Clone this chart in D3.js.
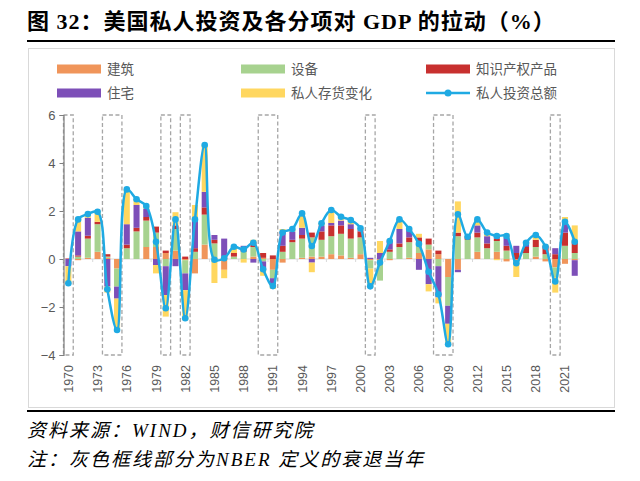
<!DOCTYPE html>
<html><head><meta charset="utf-8">
<script src="https://cdn.jsdelivr.net/npm/d3@7"></script>
<style>body{margin:0;background:#fff}svg{display:block}</style>
</head><body>
<svg id="c" width="640" height="481"></svg>
<script>
const years = d3.range(1970, 2023);
const construction = [0.0,-0.05,0.05,0.3,0.05,-0.4,0.0,0.0,0.5,0.5,0.25,0.35,-0.05,-0.6,0.6,0.05,-0.45,0.0,0.0,0.1,0.05,-0.45,-0.15,0.0,0.05,0.1,0.1,0.2,0.15,0.05,0.2,-0.05,-0.25,-0.05,0.0,0.05,0.25,0.4,0.2,-0.75,-0.45,0.0,0.3,0.0,0.3,-0.1,-0.05,0.0,0.1,-0.1,-0.35,-0.2,-0.05];
const equipment    = [0.0,0.1,0.8,1.15,0.05,-0.75,0.45,1.15,1.1,0.6,-0.3,0.9,-0.55,0.3,1.25,0.6,0.0,0.1,0.3,0.4,-0.1,-0.35,0.3,0.7,0.8,0.8,0.7,0.75,0.9,0.8,0.7,-0.35,-0.65,0.3,0.5,0.65,0.45,0.2,-0.3,-1.2,0.95,0.8,0.6,0.45,0.45,0.35,-0.1,0.25,0.4,0.2,-0.4,0.55,0.25];
const ipp          = [0.02,0.05,0.12,0.1,0.1,0.0,0.15,0.15,0.15,0.25,0.1,0.15,0.1,0.15,0.3,0.15,0.1,0.15,0.15,0.2,0.2,0.15,0.25,0.1,0.15,0.2,0.35,0.45,0.35,0.4,0.25,0.0,0.0,0.1,0.15,0.2,0.2,0.25,0.15,0.0,0.15,0.15,0.2,0.2,0.1,0.2,0.25,0.25,0.3,0.35,0.2,0.55,0.45];
const residential  = [-0.3,1.0,0.75,0.0,-1.15,-0.5,0.85,0.95,0.35,-0.25,-1.2,-0.3,-0.7,1.2,0.65,0.2,0.75,0.0,0.1,-0.15,-0.35,-0.25,0.6,0.35,0.3,-0.15,0.25,0.1,0.2,0.2,0.05,0.05,0.25,0.35,0.6,0.3,-0.45,-1.05,-1.3,-0.75,-0.1,0.0,0.3,0.3,0.15,0.35,0.3,0.2,0.0,0.0,0.25,0.5,-0.65];
const inventory    = [-0.72,0.5,0.15,0.45,-0.25,-1.3,1.45,0.25,0.1,-0.35,-0.9,0.55,-1.25,0.6,1.95,-1.0,-0.35,0.25,-0.15,0.1,-0.25,-0.2,0.1,0.1,0.6,-0.4,0.1,0.55,0.15,0.15,0.05,-0.8,0.5,0.05,0.4,0.05,0.15,-0.3,-0.25,-0.85,1.3,0.0,0.25,0.15,-0.05,0.15,-0.6,0.0,0.2,0.05,-0.65,0.15,0.7];
const total        = [-1.01,1.65,1.87,1.97,-1.26,-2.96,2.9,2.49,2.21,0.72,-2.05,1.65,-2.47,1.65,4.75,-0.03,0.03,0.51,0.4,0.68,-0.43,-1.13,1.1,1.25,1.9,0.54,1.49,2.04,1.76,1.62,1.28,-1.14,-0.15,0.75,1.65,1.25,0.63,-0.53,-1.47,-3.55,1.86,0.93,1.65,1.1,0.96,0.96,-0.18,0.68,1.0,0.51,-0.94,1.55,0.72];
const seriesNames  = ["建筑","设备","知识产权产品","住宅","私人存货变化"];
const lineName     = "私人投资总额";
const recessions   = [[1970,1970],[1974,1975],[1980,1980],[1982,1982],[1990,1991],[2001,2001],[2008,2009],[2020,2020]];
const yTicks       = [-4,-2,0,2,4,6];
const xLabelYears  = d3.range(1970, 2023, 3);
const colors = ["#F0955A","#A7D28F","#C8302F","#7D4FB8","#FFD760"];
const lineColor = "#1FAAE3";

const svg = d3.select("#c");
const keys = ["construction","equipment","ipp","residential","inventory"];
const series = [construction, equipment, ipp, residential, inventory];
const table = years.map((yr,i)=>{const o={year:yr}; keys.forEach((k,j)=>o[k]=series[j][i]); o.total=total[i]; return o;});

// title
svg.append("text").attr("x",27).attr("y",29)
  .style("font-family","'Liberation Serif','Noto Sans CJK SC',serif").style("font-weight","bold")
  .style("font-size","22px").style("letter-spacing","1px").attr("fill","#000").text("图 32：美国私人投资及各分项对 GDP 的拉动（%）");
svg.append("line").attr("x1",27).attr("x2",615).attr("y1",41).attr("y2",41).attr("stroke","#000").attr("stroke-width",2);
// frame
svg.append("rect").attr("x",28.5).attr("y",48.5).attr("width",586).attr("height",359).attr("fill","none").attr("stroke","#D9D9D9");

// legend
const legFont = "'Noto Sans CJK SC',sans-serif";
const legCols = [57, 241, 426], legRows = [69, 93];
const legItems = [[0,0,0],[1,1,0],[2,2,0],[3,0,1],[4,1,1]];
legItems.forEach(([si,c,r])=>{
  svg.append("rect").attr("x",legCols[c]).attr("y",legRows[r]-4.5).attr("width",44).attr("height",9).attr("fill",colors[si]);
  svg.append("text").attr("x",legCols[c]+50).attr("y",legRows[r]+5).style("font-family",legFont).style("font-size","13.5px").attr("fill","#595959").text(seriesNames[si]);
});
svg.append("line").attr("x1",legCols[2]).attr("x2",legCols[2]+44).attr("y1",legRows[1]).attr("y2",legRows[1]).attr("stroke",lineColor).attr("stroke-width",2.5);
svg.append("circle").attr("cx",legCols[2]+22).attr("cy",legRows[1]).attr("r",3.5).attr("fill",lineColor);
svg.append("text").attr("x",legCols[2]+50).attr("y",legRows[1]+5).style("font-family",legFont).style("font-size","13.5px").attr("fill","#595959").text(lineName);

// scales
const x = d3.scaleBand().domain(years).range([63.5, 579.6]).padding(0);
const y = d3.scaleLinear().domain([-4,6]).range([355,115]);
const bw = x.step()*0.62;

// recession boxes
svg.append("g").selectAll("rect").data(recessions).join("rect")
  .attr("x",d=>x(d[0])).attr("width",d=>x(d[1])+x.step()-x(d[0]))
  .attr("y",y(6)).attr("height",y(-4)-y(6))
  .attr("fill","none").attr("stroke","#A6A6A6").attr("stroke-width",1.3).attr("stroke-dasharray","4,2.5");

// zero axis
svg.append("line").attr("x1",x.range()[0]).attr("x2",x.range()[1]).attr("y1",y(0)).attr("y2",y(0)).attr("stroke","#D9D9D9").attr("stroke-width",1);
svg.append("g").selectAll("line").data(xLabelYears).join("line")
  .attr("x1",d=>x(d)).attr("x2",d=>x(d)).attr("y1",y(0)).attr("y2",y(0)+3).attr("stroke","#D9D9D9");

// bars
const stack = d3.stack().keys(keys).offset(d3.stackOffsetDiverging)(table);
svg.append("g").selectAll("g").data(stack).join("g").attr("fill",(d,i)=>colors[i])
  .selectAll("rect").data(d=>d).join("rect")
  .attr("x",d=>x(d.data.year)+(x.step()-bw)/2).attr("width",bw)
  .attr("y",d=>y(Math.max(d[0],d[1]))).attr("height",d=>Math.abs(y(d[0])-y(d[1])));

// y axis
const yAxis = svg.append("g").attr("transform",`translate(${x.range()[0]},0)`)
  .call(d3.axisLeft(y).tickValues(yTicks).tickSize(4).tickFormat(d3.format("d")));
yAxis.select(".domain").attr("stroke","#7F7F7F").attr("stroke-width",1.2);
yAxis.selectAll(".tick line").attr("stroke","#7F7F7F");
yAxis.selectAll("text").attr("fill","#595959").style("font-family","'Liberation Sans',Arial,sans-serif").style("font-size","13px").attr("x",-8);

// x labels
svg.append("g").selectAll("text").data(xLabelYears).join("text")
  .attr("transform",d=>`translate(${x(d)+x.step()/2+4.5},365) rotate(-90)`)
  .attr("text-anchor","end").attr("fill","#595959")
  .style("font-family","'Liberation Sans',Arial,sans-serif").style("font-size","12.5px").text(d=>d);

// line
const line = d3.line().x(d=>x(d.year)+x.step()/2).y(d=>y(d.total)).curve(d3.curveCatmullRom.alpha(0.5));
svg.append("path").datum(table).attr("d",line).attr("fill","none").attr("stroke",lineColor).attr("stroke-width",2.5);
svg.append("g").selectAll("circle").data(table).join("circle")
  .attr("cx",d=>x(d.year)+x.step()/2).attr("cy",d=>y(d.total)).attr("r",3.3).attr("fill",lineColor);

// bottom rule & notes
svg.append("line").attr("x1",27).attr("x2",615).attr("y1",411).attr("y2",411).attr("stroke","#000").attr("stroke-width",2);
const noteFont = "'Liberation Serif','Noto Sans CJK SC',serif";
svg.append("text").attr("x",27).attr("y",437).style("font-family",noteFont).style("font-style","italic").style("font-size","19px").style("letter-spacing","2px").attr("fill","#000").text("资料来源：WIND，财信研究院");
svg.append("text").attr("x",27).attr("y",466).style("font-family",noteFont).style("font-style","italic").style("font-size","19px").style("letter-spacing","2px").attr("fill","#000").text("注：灰色框线部分为NBER 定义的衰退当年");
</script>
</body></html>
